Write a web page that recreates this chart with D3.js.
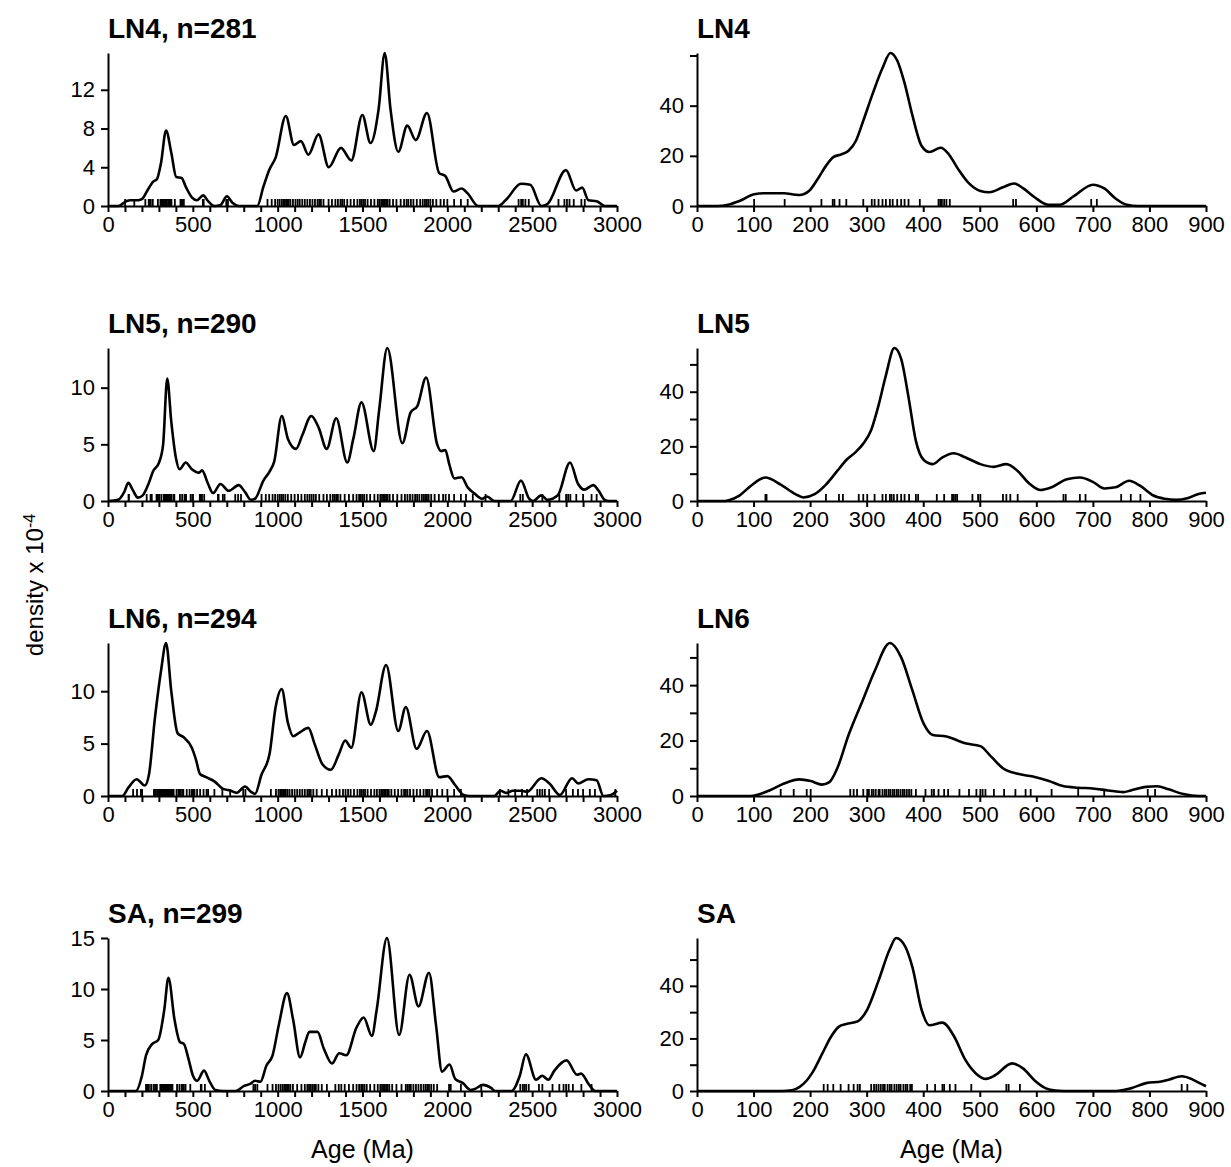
<!DOCTYPE html>
<html>
<head>
<meta charset="utf-8">
<script src="https://cdn.jsdelivr.net/npm/d3@7"></script>
<style>
  body { margin: 0; background: #fff; }
  svg { font-family: "Liberation Sans", Arial, sans-serif; }
  .curve { fill: none; stroke: #000; stroke-width: 2.6; stroke-linejoin: round; }
  .rug line { stroke: #000; stroke-width: 1.8; }
  .axis path, .axis line { stroke: #000; stroke-width: 2; }
  .axis text { font-size: 22px; fill: #000; }
  .title { font-size: 28px; font-weight: bold; }
</style>
</head>
<body>
<svg width="1231" height="1167"></svg>
<script>
// density curves: [age (Ma), density x 1e-4]
var ln4All = [[0,0],[60,0],[108,0.5],[130,0.6],[180,0.6],[200,0.7],[229,1.5],[265,2.5],[289,2.8],[313,4.5],[342,7.8],[373,5.5],[402,3.0],[434,2.9],[458,2.0],[494,0.9],[523,0.6],[561,1.1],[590,0.5],[627,0],[663,0.1],[701,1.0],[735,0.3],[771,0],[880,0],[916,2.0],[952,3.8],[988,5.0],[1048,9.3],[1096,6.3],[1137,6.7],[1181,5.3],[1241,7.4],[1301,4.0],[1373,6.0],[1434,4.7],[1499,9.4],[1547,6.5],[1595,10],[1631,15.8],[1665,10],[1711,5.6],[1764,8.3],[1814,6.8],[1880,9.6],[1952,3.4],[1988,3.1],[2036,1.5],[2084,1.8],[2120,1.3],[2181,0],[2301,0],[2349,0.7],[2434,2.3],[2489,2.2],[2554,0],[2590,0.2],[2699,3.7],[2759,1.6],[2795,1.9],[2831,0.6],[2880,0.5],[2928,0],[3000,0]];
var ln5All = [[0,0],[60,0.1],[96,0.8],[120,1.6],[145,1.0],[176,0.3],[205,0.5],[241,1.6],[265,2.6],[301,3.4],[325,5.0],[349,10.8],[373,7.0],[398,4.0],[422,2.8],[458,3.4],[494,2.8],[535,2.5],[554,2.7],[590,1.5],[619,0.7],[663,1.5],[711,0.9],[771,1.4],[807,0.8],[843,0.1],[867,0.2],[916,1.8],[952,2.6],[980,3.5],[1024,7.5],[1060,5.5],[1108,4.6],[1145,5.8],[1198,7.5],[1241,6.5],[1289,4.6],[1345,7.3],[1410,3.4],[1446,5.5],[1494,8.7],[1566,4.4],[1598,8.0],[1646,13.5],[1735,5.1],[1783,7.8],[1824,8.4],[1875,10.9],[1940,5.0],[1964,4.4],[1988,4.5],[2012,3.2],[2041,2.0],[2084,2.1],[2120,1.2],[2157,0.7],[2205,0.2],[2234,0.4],[2277,0],[2373,0],[2434,1.8],[2482,0.2],[2506,0],[2554,0.5],[2590,0.1],[2651,0.5],[2723,3.4],[2771,1.5],[2807,1.0],[2860,1.4],[2892,0.9],[2928,0.1],[2952,0],[3000,0]];
var ln6All = [[0,0],[84,0],[120,0.8],[169,1.6],[217,1.0],[241,2.0],[277,7.5],[313,12],[342,14.6],[373,10],[410,6.0],[446,5.6],[494,4.6],[518,3.5],[542,2.1],[578,1.8],[627,1.4],[675,0.7],[723,0.5],[759,0.3],[807,0.9],[843,0.4],[867,0.2],[904,2.0],[952,4.0],[988,8.5],[1024,10.2],[1060,7.0],[1092,5.7],[1133,6.1],[1181,6.5],[1217,5.0],[1265,3.0],[1313,2.5],[1361,4.0],[1398,5.3],[1434,4.6],[1494,9.9],[1549,6.8],[1578,8.0],[1639,12.5],[1711,6.2],[1755,8.5],[1819,4.5],[1880,6.2],[1952,1.8],[2000,1.9],[2048,1.0],[2096,0.1],[2133,0],[2277,0],[2313,0.5],[2349,0.3],[2386,0.5],[2434,0.5],[2470,0.4],[2554,1.7],[2602,1.2],[2663,0.1],[2735,1.7],[2771,1.2],[2831,1.6],[2880,1.5],[2920,0],[2964,0.1],[3000,0.5]];
var saAll = [[0,0],[164,0],[200,1.5],[224,3.5],[260,4.6],[296,5.0],[332,8.0],[356,11.1],[392,7.0],[424,4.8],[448,4.6],[472,3.3],[501,1.5],[525,1.0],[566,2.0],[597,1.0],[633,0.1],[681,0],[754,0],[802,0.5],[838,0.7],[867,1.0],[898,0.9],[934,2.5],[970,3.5],[1007,6.5],[1055,9.6],[1091,7.0],[1132,3.3],[1163,4.8],[1187,5.8],[1235,5.8],[1271,4.2],[1320,2.7],[1363,3.7],[1404,3.5],[1464,6.2],[1507,7.2],[1555,5.4],[1584,8.0],[1644,15.0],[1716,5.5],[1777,11.4],[1830,8.3],[1892,11.6],[1933,6.5],[1969,1.9],[2013,2.6],[2046,1.2],[2090,0.8],[2138,0.1],[2162,0.2],[2210,0.6],[2258,0.3],[2282,0],[2378,0],[2427,1.5],[2463,3.6],[2523,1.1],[2559,1.5],[2595,1.1],[2631,2.0],[2703,3.0],[2764,1.6],[2788,1.7],[2836,0.6],[2872,0],[3000,0]];

var ln4Young = [[0,0],[35,0],[55,0.5],[75,2],[101,4.7],[121,5.1],[154,5.1],[174,4.5],[181,4.4],[198,6],[214,11],[228,16],[241,19.5],[254,20.5],[268,22],[281,26],[294,34],[311,45],[328,55],[342,61],[354,58],[367,49],[381,36],[397,24],[411,21.5],[431,23.2],[444,21],[461,15],[481,9],[501,6],[517,5.5],[541,7.5],[561,9],[577,7],[597,3.5],[621,0.5],[641,0.5],[667,4],[700,8.5],[720,7],[740,3],[760,0.5],[780,0],[900,0]];
var ln5Young = [[0,0],[50,0],[55,0.2],[75,2],[95,5.5],[121,8.6],[148,6],[174,2.5],[188,1.3],[208,2.5],[228,6],[248,11],[264,15],[281,18],[294,21],[308,26],[321,35],[334,46],[349,56],[361,52],[374,38],[387,22],[401,15],[417,13.5],[434,16],[454,17.5],[474,16],[501,13.5],[524,12.5],[547,13.5],[567,11],[587,6.5],[607,4],[627,5],[654,8],[677,8.6],[700,7],[720,4.6],[740,5],[764,7.4],[784,5.5],[807,2],[827,0.8],[847,0.4],[867,1],[887,2.6],[900,3]];
var ln6Young = [[0,0],[95,0],[128,2],[154,4.5],[181,6],[201,5.4],[221,4.1],[234,5],[248,10],[268,22],[294,35],[314,45],[341,55.2],[361,50],[381,38],[401,26],[417,22],[441,21.5],[474,19],[501,18],[521,14],[541,10],[567,8],[594,7],[621,5.5],[647,3.6],[674,3],[700,2.7],[727,2],[754,1.4],[767,2],[794,3.3],[814,3.5],[834,2.4],[860,0.7],[887,0],[900,0]];
var saYoung = [[0,0],[150,0],[168,0.3],[181,1.5],[194,4],[204,7],[221,14],[238,21],[251,24.5],[264,25.5],[284,26.5],[301,31],[321,42],[341,54],[352,58.2],[368,55],[381,47],[397,31],[411,25],[434,26],[454,21],[474,12],[494,6.5],[511,4.6],[527,6],[557,10.5],[577,8.5],[597,4],[617,1],[634,0.2],[661,0],[741,0],[767,1],[794,3],[821,3.6],[834,4.3],[857,5.6],[874,4.6],[887,3.2],[900,1.8]];

// rug ages (Ma), younger than 900 and older grains
var ln4RugYoung = [101,155,220,240,243,252,264,294,309,314,321,328,334,341,346,354,361,367,374,394,427,430,433,437,441,447,559,564,697,707];
var ln4RugOld = [940,965,985,1000,1012,1025,1035,1042,1050,1058,1065,1075,1090,1105,1118,1130,1145,1160,1175,1190,1205,1220,1235,1245,1255,1270,1300,1320,1340,1355,1370,1380,1392,1410,1430,1450,1470,1485,1495,1505,1515,1530,1550,1570,1590,1600,1610,1618,1625,1632,1640,1648,1660,1680,1700,1725,1745,1760,1770,1785,1800,1820,1840,1855,1868,1878,1888,1900,1915,1935,1960,1980,2000,2040,2080,2120,2420,2435,2445,2460,2480,2655,2690,2705,2720,2745,2790,2810];
var ln5RugYoung = [121,123,228,251,258,286,294,301,314,328,334,341,344,348,354,361,367,375,387,391,424,437,451,454,457,460,487,497,501,541,547,554,567,648,652,677,687,750,767,784];
var ln5RugOld = [905,930,950,970,985,1000,1012,1022,1032,1045,1060,1080,1100,1120,1140,1160,1175,1188,1200,1212,1225,1245,1270,1290,1310,1325,1335,1345,1355,1370,1395,1420,1445,1465,1480,1490,1500,1510,1525,1545,1570,1590,1605,1615,1625,1632,1640,1648,1660,1680,1705,1730,1750,1765,1780,1795,1810,1822,1835,1850,1862,1872,1880,1890,1905,1925,1950,1975,1990,2010,2040,2080,2110,2150,2225,2430,2445,2560,2660,2700,2712,2725,2760,2800,2850,2880];
var ln6RugYoung = [148,171,194,201,271,277,283,294,301,304,309,312,316,321,323,328,332,335,339,342,346,349,353,356,360,364,367,371,375,379,387,404,415,419,427,437,444,464,481,494,501,505,510,525,543,563,581,590,627,674,720,797,810];
var ln6RugOld = [960,990,1005,1015,1025,1032,1040,1048,1058,1070,1085,1100,1115,1130,1145,1160,1175,1185,1195,1210,1230,1260,1290,1320,1345,1365,1385,1400,1415,1430,1450,1470,1485,1495,1505,1515,1530,1550,1570,1585,1600,1610,1620,1628,1636,1645,1655,1670,1690,1710,1730,1745,1755,1765,1780,1800,1820,1840,1860,1875,1885,1895,1910,1940,1970,2000,2040,2080,2310,2360,2400,2440,2470,2530,2545,2560,2575,2600,2700,2740,2770,2800,2840,2870,2990];
var saRugYoung = [224,231,241,254,268,277,284,288,308,313,317,321,325,329,332,337,341,344,349,353,357,360,365,369,372,377,380,407,421,434,437,447,457,485,547,551,571,857,867];
var saRugOld = [880,940,970,990,1005,1018,1030,1040,1048,1056,1065,1075,1090,1115,1140,1160,1175,1185,1195,1205,1215,1225,1240,1260,1290,1340,1360,1375,1395,1420,1445,1465,1480,1492,1502,1512,1525,1545,1570,1590,1605,1615,1625,1632,1640,1648,1658,1675,1700,1730,1755,1765,1775,1785,1800,1815,1830,1845,1860,1872,1882,1892,1905,1920,1940,2010,2020,2080,2200,2430,2445,2455,2465,2480,2540,2560,2620,2660,2685,2700,2715,2740,2790,2850];

var samples = ["LN4", "LN5", "LN6", "SA"];
var counts = [281, 290, 294, 299];
var leftYTicks = [[0,4,8,12], [0,5,10], [0,5,10], [0,5,10,15]];
var rightYTicks = [[0,20,40,60], [0,10,20,30,40,50], [0,10,20,30,40,50], [0,10,20,30,40,50]];
var allCurves = [ln4All, ln5All, ln6All, saAll];
var youngCurves = [ln4Young, ln5Young, ln6Young, saYoung];
var rugYoung = [ln4RugYoung, ln5RugYoung, ln6RugYoung, saRugYoung];
var rugOld = [ln4RugOld, ln5RugOld, ln6RugOld, saRugOld];

var svg = d3.select("svg");
var rowBase = [206, 501, 796, 1091], plotH = 153;

var xAll = d3.scaleLinear().domain([0, 3000]).range([108, 617]);
var xYoung = d3.scaleLinear().domain([0, 900]).range([697, 1206]);

function panel(i, x, curve, rug, yTicks, title, ageTicks, labelEvery) {
  var base = rowBase[i];
  var y = d3.scaleLinear()
    .domain([0, d3.max(curve, function(d) { return d[1]; })])
    .range([base, base - plotH]);
  var g = svg.append("g");

  g.append("text").attr("class", "title")
    .attr("x", x.range()[0]).attr("y", base - plotH - 15)
    .text(title);

  g.append("g").attr("class", "rug")
    .selectAll("line").data(rug).enter().append("line")
    .attr("x1", function(d) { return x(d); }).attr("x2", function(d) { return x(d); })
    .attr("y1", base).attr("y2", base - 7);

  g.append("path").datum(curve).attr("class", "curve")
    .attr("d", d3.line()
      .x(function(d) { return x(d[0]); })
      .y(function(d) { return y(d[1]); })
      .curve(d3.curveMonotoneX));

  g.append("g").attr("class", "axis")
    .attr("transform", "translate(0," + base + ")")
    .call(d3.axisBottom(x).tickValues(ageTicks).tickSize(6).tickSizeOuter(0).tickPadding(4)
      .tickFormat(function(d) { return d % labelEvery ? "" : d; }));

  // right-hand panels label only every 20, and not the 60 at the top
  g.append("g").attr("class", "axis")
    .attr("transform", "translate(" + x.range()[0] + ",0)")
    .call(d3.axisLeft(y).tickValues(yTicks).tickSize(7).tickSizeOuter(0).tickPadding(6)
      .tickFormat(function(d) { return x === xYoung && (d % 20 || d === 60) ? "" : d; }));
}

samples.forEach(function(s, i) {
  panel(i, xAll, allCurves[i], rugYoung[i].concat(rugOld[i]), leftYTicks[i],
    s + ", n=" + counts[i], d3.range(0, 3001, 100), 500);
  panel(i, xYoung, youngCurves[i], rugYoung[i], rightYTicks[i],
    s, d3.range(0, 901, 100), 100);
});

svg.append("text")
  .attr("transform", "translate(43,585) rotate(-90)")
  .attr("text-anchor", "middle")
  .style("font-size", "24px")
  .text("density x 10")
  .append("tspan").attr("baseline-shift", "super").style("font-size", "16px").text("-4");

[xAll, xYoung].forEach(function(x) {
  svg.append("text")
    .attr("x", d3.mean(x.range())).attr("y", 1158)
    .attr("text-anchor", "middle")
    .style("font-size", "25px")
    .text("Age (Ma)");
});
</script>
</body>
</html>
